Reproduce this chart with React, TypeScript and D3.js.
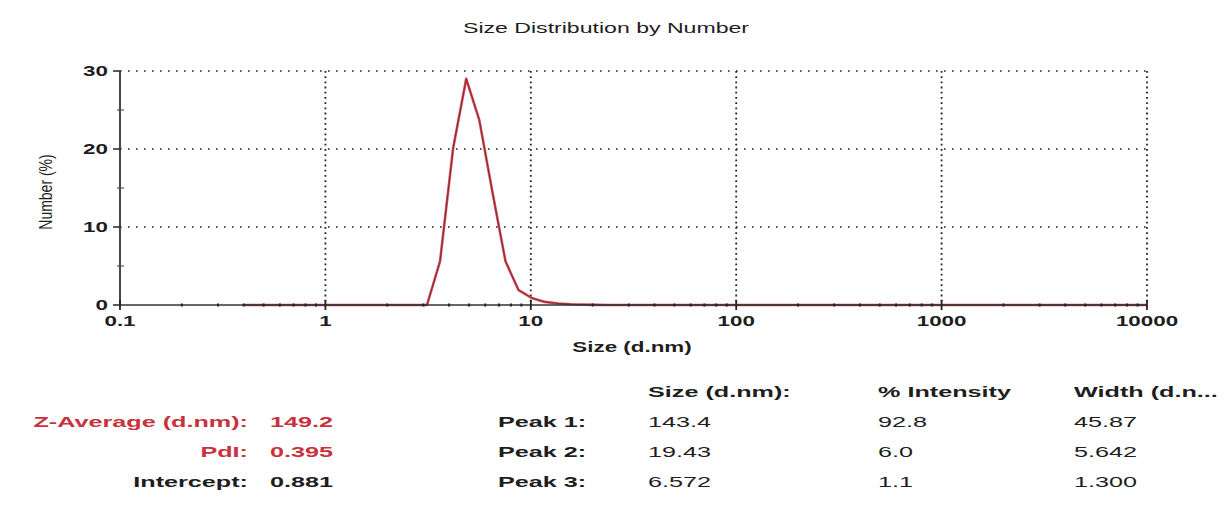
import React from "react";
import * as d3 from "d3";

const sizes = [0.4, 0.4632, 0.5365, 0.6213, 0.7195, 0.8332, 0.9649, 1.117, 1.294, 1.499, 1.736, 2.01, 2.328, 2.696, 3.122, 3.615, 4.187, 4.849, 5.615, 6.503, 7.531, 8.721, 10.1, 11.7, 13.54, 15.69, 18.17, 21.04, 24.36, 28.21, 32.67, 37.84, 43.82, 50.75, 58.77, 68.06, 78.82, 91.28, 105.7, 122.4, 141.8, 164.2, 190.1, 220.2, 255.0, 295.3, 342.0, 396.1, 458.7, 531.2, 615.1, 712.4, 825.0, 955.4, 1106, 1281, 1484, 1718, 1990, 2305, 2669, 3091, 3580, 4145, 4801, 5560, 6439, 7456, 8635, 10000];
const numberPct = [0, 0, 0, 0, 0, 0, 0, 0, 0, 0, 0, 0, 0, 0, 0, 5.6, 20.1, 29.0, 23.7, 14.5, 5.6, 1.9, 0.9, 0.4, 0.2, 0.1, 0.05, 0.02, 0, 0, 0, 0, 0, 0, 0, 0, 0, 0, 0, 0, 0, 0, 0, 0, 0, 0, 0, 0, 0, 0, 0, 0, 0, 0, 0, 0, 0, 0, 0, 0, 0, 0, 0, 0, 0, 0, 0, 0, 0, 0];

const xMajorTicks = [0.1, 1, 10, 100, 1000, 10000];
const xTickLabels = ["0.1", "1", "10", "100", "1000", "10000"];
const yMajorTicks = [0, 10, 20, 30];
const yMinorTicks = [5, 15, 25];

const summaryLabels = ["Z-Average (d.nm):", "PdI:", "Intercept:"];
const summaryValues = ["149.2", "0.395", "0.881"];
const summaryRed = [true, true, false];
const peakLabels = ["Peak 1:", "Peak 2:", "Peak 3:"];
const peakHeaders = ["Size (d.nm):", "% Intensity", "Width (d.n..."];
const peakSize = ["143.4", "19.43", "6.572"];
const peakIntensity = ["92.8", "6.0", "1.1"];
const peakWidth = ["45.87", "5.642", "1.300"];

type TP = { x: number; y: number; sx: number; anchor?: string; size: number; weight?: string; fill: string; children: React.ReactNode };
function T({ x, y, sx, anchor = "start", size, weight = "normal", fill, children }: TP) {
  return (
    <text transform={`translate(${x},${y}) scale(${sx},1)`} textAnchor={anchor} fontSize={size} fontWeight={weight} fill={fill}>
      {children}
    </text>
  );
}

export default function App() {
  const W = 1228, H = 508;
  const x = d3.scaleLog().domain([0.1, 10000]).range([120, 1147]);
  const y = d3.scaleLinear().domain([0, 30]).range([305, 71]);
  const line = d3.line<number>().x((_, i) => x(sizes[i])).y((d) => y(d));
  const minorX: number[] = [];
  for (let p = -1; p < 4; p++) for (let m = 2; m <= 9; m++) minorX.push(m * Math.pow(10, p));
  const font = "'Liberation Sans', Arial, sans-serif";
  const red = "#c8323c";
  const txt = "#1e1e1e";
  const cols = [648, 878, 1074];
  const headerY = 397;
  const rowsY = [427, 457, 487];
  const SX = 1.68;
  return (
    <svg width={W} height={H} style={{ position: "absolute", left: 0, top: 0, background: "#fff" }} fontFamily={font}>
      <T x={606} y={33} sx={1.65} anchor="middle" size={14} fill={txt}>Size Distribution by Number</T>
      {/* grid */}
      {yMajorTicks.filter((t) => t > 0).map((t) => (
        <line key={"hg" + t} x1={x(0.1)} x2={x(10000)} y1={y(t)} y2={y(t)} stroke="#222" strokeWidth={1.6} strokeDasharray="1.6,6.4" />
      ))}
      {xMajorTicks.slice(1).map((t) => (
        <line key={"vg" + t} x1={x(t)} x2={x(t)} y1={y(30)} y2={y(0)} stroke="#222" strokeWidth={1.8} strokeDasharray="1.8,3.4" />
      ))}
      {/* axes */}
      <line x1={x(0.1)} x2={x(0.1)} y1={y(30)} y2={y(0)} stroke="#333" strokeWidth={1.8} />
      {yMajorTicks.map((t) => (
        <line key={"yt" + t} x1={x(0.1) - 7} x2={x(0.1)} y1={y(t)} y2={y(t)} stroke="#333" strokeWidth={1.6} />
      ))}
      {yMinorTicks.map((t) => (
        <line key={"ym" + t} x1={x(0.1) - 3} x2={x(0.1) + 4} y1={y(t)} y2={y(t)} stroke="#555" strokeWidth={1.2} />
      ))}
      {yMajorTicks.map((t) => (
        <T key={"yl" + t} x={x(0.1) - 12} y={y(t) + 5} sx={1.6} anchor="end" size={14} weight="bold" fill={txt}>{t}</T>
      ))}
      <text transform={`translate(52,192) scale(1.35,1) rotate(-90)`} textAnchor="middle" fontSize={14} fill={txt}>Number (%)</text>
      <path d={line(numberPct) || ""} fill="none" stroke="#dc4b55" strokeWidth={2.6} strokeLinejoin="round" />
      <path d={line(numberPct) || ""} fill="none" stroke="#6e2a30" strokeWidth={0.9} strokeLinejoin="round" />
      <line x1={x(0.1)} x2={x(10000)} y1={y(0)} y2={y(0)} stroke="#333" strokeWidth={1.4} />
      {minorX.map((t, i) => (
        <line key={"xm" + i} x1={x(t)} x2={x(t)} y1={y(0) - 1.5} y2={y(0) + 1.5} stroke="#222" strokeWidth={2} />
      ))}
      {xMajorTicks.map((t) => (
        <line key={"xt" + t} x1={x(t)} x2={x(t)} y1={y(0) - 5} y2={y(0) + 5} stroke="#222" strokeWidth={1.8} />
      ))}
      {xMajorTicks.map((t, i) => (
        <T key={"xl" + t} x={x(t)} y={326} sx={1.6} anchor="middle" size={14} weight="bold" fill={txt}>{xTickLabels[i]}</T>
      ))}
      <T x={632} y={352} sx={1.6} anchor="middle" size={14} weight="bold" fill={txt}>Size (d.nm)</T>
      {/* table */}
      {peakHeaders.map((h, i) => (
        <T key={"ph" + i} x={cols[i]} y={headerY} sx={SX} size={15} weight="bold" fill={txt}>{h}</T>
      ))}
      {summaryLabels.map((s, i) => (
        <g key={"s" + i}>
          <T x={248} y={rowsY[i]} sx={SX} anchor="end" size={15} weight="bold" fill={summaryRed[i] ? red : txt}>{s}</T>
          <T x={270} y={rowsY[i]} sx={SX} size={15} weight="bold" fill={summaryRed[i] ? red : txt}>{summaryValues[i]}</T>
        </g>
      ))}
      {peakLabels.map((p, i) => (
        <g key={"p" + i}>
          <T x={498} y={rowsY[i]} sx={SX} size={15} weight="bold" fill={txt}>{p}</T>
          <T x={cols[0]} y={rowsY[i]} sx={SX} size={15} fill={txt}>{peakSize[i]}</T>
          <T x={cols[1]} y={rowsY[i]} sx={SX} size={15} fill={txt}>{peakIntensity[i]}</T>
          <T x={cols[2]} y={rowsY[i]} sx={SX} size={15} fill={txt}>{peakWidth[i]}</T>
        </g>
      ))}
    </svg>
  );
}
